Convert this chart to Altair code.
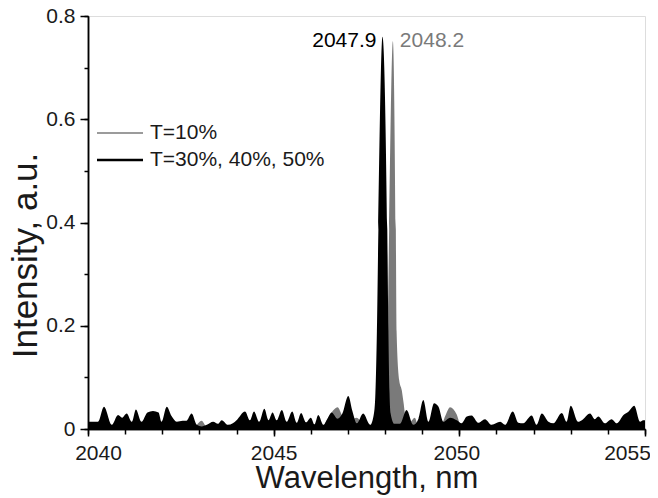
import altair as alt
import pandas as pd

# ---- data ----
black_wl = [2040.0, 2040.15, 2040.27, 2040.43, 2040.64, 2040.81, 2040.92, 2041.04, 2041.18, 2041.29,
            2041.44, 2041.6, 2041.75, 2041.9, 2041.98, 2042.12, 2042.25, 2042.39, 2042.55, 2042.65,
            2042.79, 2042.93, 2043.06, 2043.2, 2043.37, 2043.5, 2043.6, 2043.77, 2043.9, 2044.0,
            2044.23, 2044.36, 2044.47, 2044.61, 2044.75, 2044.86, 2044.97, 2045.08, 2045.22, 2045.35,
            2045.5, 2045.62, 2045.74, 2045.87, 2046.0, 2046.1, 2046.2, 2046.34, 2046.45, 2046.56,
            2046.72, 2046.85, 2047.01, 2047.12, 2047.24, 2047.41, 2047.6, 2047.7, 2047.74, 2047.78,
            2047.82, 2047.93, 2048.06, 2048.09, 2048.12, 2048.15, 2048.25, 2048.4, 2048.58, 2048.76,
            2048.9, 2049.03, 2049.17, 2049.32, 2049.44, 2049.57, 2049.75, 2049.93, 2050.06, 2050.2,
            2050.33, 2050.51, 2050.69, 2050.87, 2051.1, 2051.23, 2051.44, 2051.59, 2051.72, 2051.95,
            2052.08, 2052.22, 2052.4, 2052.53, 2052.76, 2052.89, 2053.0, 2053.2, 2053.3, 2053.52,
            2053.65, 2053.74, 2053.92, 2054.1, 2054.24, 2054.42, 2054.56, 2054.71, 2054.87, 2054.95,
            2055.0]
black_int = [0.014, 0.014, 0.014, 0.043, 0.008, 0.027, 0.022, 0.030, 0.014, 0.038,
             0.014, 0.032, 0.035, 0.032, 0.014, 0.043, 0.025, 0.014, 0.016, 0.016,
             0.030, 0.008, 0.005, 0.008, 0.014, 0.010, 0.017, 0.008, 0.011, 0.017,
             0.034, 0.017, 0.034, 0.014, 0.039, 0.017, 0.032, 0.017, 0.037, 0.014,
             0.034, 0.012, 0.031, 0.013, 0.022, 0.009, 0.027, 0.008, 0.020, 0.032,
             0.020, 0.030, 0.064, 0.035, 0.011, 0.030, 0.008, 0.030, 0.070, 0.190,
             0.386, 0.760, 0.386, 0.190, 0.070, 0.030, 0.010, 0.010, 0.037, 0.008,
             0.020, 0.056, 0.014, 0.050, 0.043, 0.014, 0.022, 0.017, 0.011, 0.024,
             0.026, 0.012, 0.019, 0.008, 0.014, 0.008, 0.034, 0.012, 0.011, 0.026,
             0.008, 0.030, 0.014, 0.011, 0.031, 0.014, 0.045, 0.014, 0.017, 0.030,
             0.019, 0.024, 0.011, 0.019, 0.011, 0.027, 0.034, 0.045, 0.014, 0.017,
             0.017]

gray_wl = [2040.0, 2042.85, 2043.06, 2043.2, 2046.3, 2046.45, 2046.56, 2046.72, 2046.85, 2047.0,
           2047.15, 2047.24, 2047.35, 2047.6, 2047.9, 2048.0, 2048.07, 2048.11, 2048.21, 2048.29,
           2048.31, 2048.38, 2048.45, 2048.5, 2048.55, 2048.65, 2048.8, 2048.9, 2049.5, 2049.62,
           2049.75, 2049.93, 2050.05, 2055.0]
gray_int = [0.004, 0.004, 0.016, 0.004, 0.004, 0.020, 0.032, 0.042, 0.025, 0.010,
            0.020, 0.022, 0.015, 0.005, 0.020, 0.080, 0.200, 0.386, 0.751, 0.386,
            0.190, 0.095, 0.075, 0.050, 0.024, 0.012, 0.022, 0.005, 0.005, 0.025,
            0.042, 0.028, 0.005, 0.004]

series_names = ["T=10%", "T=30%, 40%, 50%"]
series_colors = ["#7a7a7a", "#000000"]

peak_labels = ["2047.9", "2048.2"]
peak_wl = [2047.93, 2048.21]
peak_label_int = [0.74, 0.74]

x_major = [2040, 2045, 2050, 2055]
x_minor = [2040, 2041, 2042, 2043, 2044, 2045, 2046, 2047, 2048, 2049, 2050, 2051, 2052, 2053, 2054, 2055]
y_major = [0, 0.2, 0.4, 0.6, 0.8]
y_minor = [0, 0.1, 0.2, 0.3, 0.4, 0.5, 0.6, 0.7, 0.8]

FONT = "Liberation Sans"

black_df = pd.DataFrame({"wl": black_wl, "v": black_int})
gray_df = pd.DataFrame({"wl": gray_wl, "v": gray_int})

xs = alt.Scale(domain=[2040, 2055], nice=False, zero=False)
ys = alt.Scale(domain=[0, 0.8], nice=False, zero=True)

common_axis = dict(grid=False, domainColor="black", domainWidth=1.5, tickColor="black",
                   tickWidth=1.5)

x_minor_axis = alt.Axis(values=x_minor, labels=False, tickSize=5, title=None, orient="bottom",
                        **common_axis)
y_minor_axis = alt.Axis(values=y_minor, labels=False, tickSize=4, title=None, orient="left",
                        **common_axis)

x_major_axis = alt.Axis(
    values=x_major, format="d", tickSize=7, orient="bottom", labelFlush=False,
    labelFont=FONT, labelFontSize=21, labelColor="#1a1a1a", labelPadding=6,
    labelOffset={"condition": [{"test": "datum.value == 2040", "value": 10},
                               {"test": "datum.value == 2055", "value": -18},
                               {"test": "datum.value == 2050", "value": -3}],
                 "value": 0},
    title="Wavelength,  nm", titleFont=FONT, titleFontSize=31, titleFontWeight="normal",
    titleColor="#1a1a1a", titlePadding=0, **common_axis)
y_major_axis = alt.Axis(
    values=y_major, tickSize=8, orient="left", labelFlush=False,
    labelExpr="datum.value == 0 ? '0' : format(datum.value, '.1f')",
    labelFont=FONT, labelFontSize=21, labelColor="#1a1a1a", labelPadding=5,
    title="Intensity,  a.u.", titleFont=FONT, titleFontSize=35, titleFontWeight="normal",
    titleColor="#1a1a1a", titlePadding=2, titleY=239, **common_axis)

gray_area = alt.Chart(gray_df).mark_area(color=series_colors[0], interpolate="monotone",
                                         clip=True).encode(
    x=alt.X("wl:Q", scale=xs, axis=x_minor_axis),
    y=alt.Y("v:Q", scale=ys, axis=y_minor_axis),
)
black_area = alt.Chart(black_df).mark_area(color=series_colors[1], interpolate="monotone",
                                           clip=True).encode(
    x=alt.X("wl:Q", scale=xs, axis=x_major_axis),
    y=alt.Y("v:Q", scale=ys, axis=y_major_axis),
)

lab_black = pd.DataFrame({"wl": [peak_wl[0]], "v": [peak_label_int[0]], "t": [peak_labels[0]]})
lab_gray = pd.DataFrame({"wl": [peak_wl[1]], "v": [peak_label_int[1]], "t": [peak_labels[1]]})

txt_black = alt.Chart(lab_black).mark_text(
    align="right", baseline="alphabetic", dx=-6, font=FONT, fontSize=21, color=series_colors[1]
).encode(x=alt.X("wl:Q", scale=xs, axis=None), y=alt.Y("v:Q", scale=ys, axis=None), text="t:N")
txt_gray = alt.Chart(lab_gray).mark_text(
    align="left", baseline="alphabetic", dx=7, font=FONT, fontSize=21, color=series_colors[0]
).encode(x=alt.X("wl:Q", scale=xs, axis=None), y=alt.Y("v:Q", scale=ys, axis=None), text="t:N")

# manual legend
leg0 = pd.DataFrame({"t": [series_names[0]]})
leg1 = pd.DataFrame({"t": [series_names[1]]})
leg_rule0 = alt.Chart(leg0).mark_rule(color=series_colors[0], strokeWidth=1.5).encode(
    x=alt.value(9), x2=alt.value(55), y=alt.value(117))
leg_rule1 = alt.Chart(leg1).mark_rule(color=series_colors[1], strokeWidth=2.5).encode(
    x=alt.value(9), x2=alt.value(55), y=alt.value(144))
leg_txt0 = alt.Chart(leg0).mark_text(align="left", baseline="middle", font=FONT, fontSize=21,
                                     color="#1a1a1a").encode(
    x=alt.value(62), y=alt.value(117), text="t:N")
leg_txt1 = alt.Chart(leg1).mark_text(align="left", baseline="middle", font=FONT, fontSize=21,
                                     color="#1a1a1a").encode(
    x=alt.value(62), y=alt.value(144), text="t:N")

chart = alt.layer(
    gray_area, black_area, txt_black, txt_gray, leg_rule0, leg_rule1, leg_txt0, leg_txt1
).resolve_axis(x="independent", y="independent").properties(
    width=557, height=413,
    padding={"left": 80, "top": 8, "right": 5, "bottom": 69},
    autosize=alt.AutoSizeParams(type="none"),
).configure_view(stroke="black", strokeWidth=1.5).configure(background="white")

chart.save("out.html", embed_options={"renderer": "svg", "actions": False})
